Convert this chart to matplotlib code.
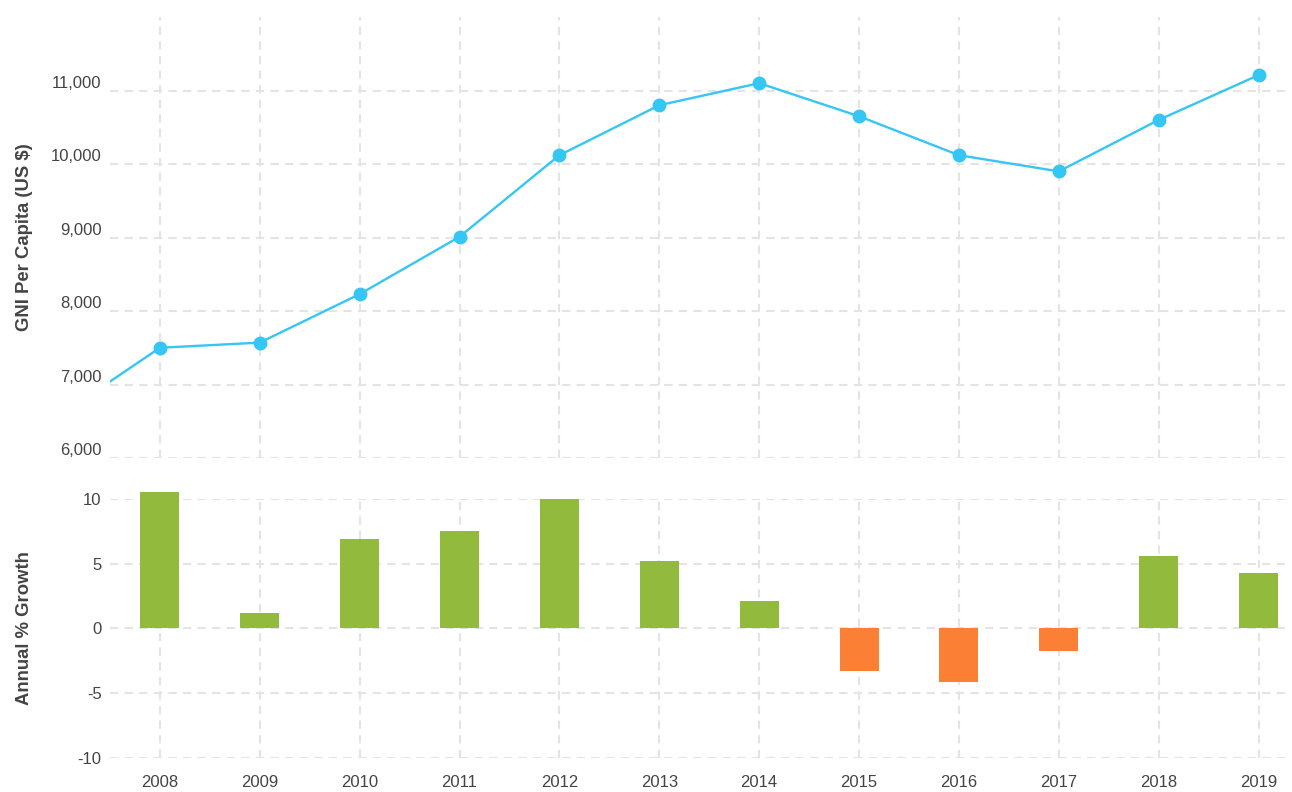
import matplotlib
matplotlib.use('Agg')
import matplotlib.pyplot as plt

plt.rcParams['font.family'] = ['Liberation Sans', 'DejaVu Sans']
plt.rcParams['axes.unicode_minus'] = False

# GNI per capita (US $); 2007 only shows as the line entering from the left edge
years = [2007, 2008, 2009, 2010, 2011, 2012, 2013, 2014, 2015, 2016, 2017, 2018, 2019]
gni = [6580, 7500, 7570, 8230, 9010, 10120, 10800, 11100, 10650, 10120, 9900, 10600, 11210]

# annual % growth
bar_years = [2008, 2009, 2010, 2011, 2012, 2013, 2014, 2015, 2016, 2017, 2018, 2019]
growth = [10.5, 1.2, 6.9, 7.5, 10.0, 5.2, 2.1, -3.3, -4.1, -1.7, 5.6, 4.3]

line_col = '#35C6F4'
pos_col = '#92BA3C'
neg_col = '#FB8035'
grid_col = '#E4E4E4'
text_col = '#444444'

fig = plt.figure(figsize=(12.92, 7.92), dpi=100)
ax1 = fig.add_axes([0.0851, 0.4217, 0.913, 0.5568])
ax2 = fig.add_axes([0.0851, 0.0429, 0.913, 0.3271])

for ax in (ax1, ax2):
    for s in ax.spines.values():
        s.set_visible(False)
    ax.grid(True, color=grid_col, linestyle=(0, (4, 3)), linewidth=1.5)
    ax.set_axisbelow(True)
    ax.tick_params(length=0, colors=text_col, labelsize=12)
    ax.set_xlim(2007.5, 2019.31)
    ax.set_xticks(bar_years)

# top: line chart
ax1.plot(years, gni, color=line_col, linewidth=1.7, marker='o', markersize=10,
         markeredgewidth=0)
ax1.set_ylim(6000, 12000)
ax1.set_yticks([6000, 7000, 8000, 9000, 10000, 11000])
ax1.set_yticklabels(['6,000', '7,000', '8,000', '9,000', '10,000', '11,000'])
for lab in ax1.get_yticklabels():
    lab.set_va('bottom')
ax1.tick_params(axis='x', labelbottom=False)
ax1.tick_params(axis='y', pad=6)
ax1.set_ylabel('GNI Per Capita (US $)', fontsize=13.3, fontweight='bold', color=text_col)
ax1.yaxis.set_label_coords(-0.065, 0.5)

# bottom: growth bars
colors = [pos_col if g >= 0 else neg_col for g in growth]
ax2.bar(bar_years, growth, width=0.39, color=colors, clip_on=False, zorder=3)
ax2.set_ylim(-10, 10)
ax2.set_yticks([-10, -5, 0, 5, 10])
ax2.tick_params(axis='y', pad=6)
ax2.tick_params(axis='x', pad=12)
ax2.set_ylabel('Annual % Growth', fontsize=13.3, fontweight='bold', color=text_col)
ax2.yaxis.set_label_coords(-0.065, 0.5)

fig.savefig('out.png', dpi=100)
